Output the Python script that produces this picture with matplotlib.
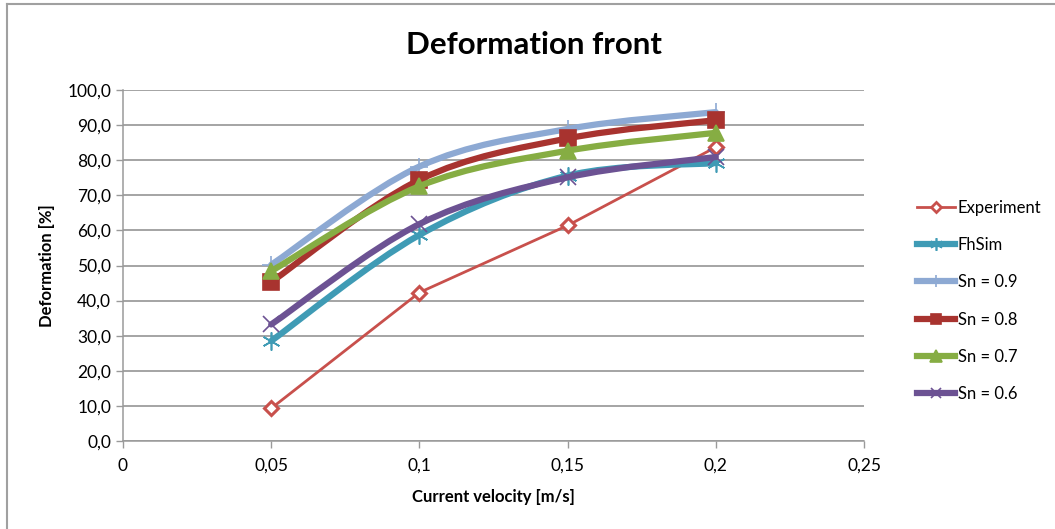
import matplotlib
matplotlib.use("Agg")
import matplotlib.pyplot as plt
from matplotlib.path import Path
from matplotlib.patches import PathPatch
from matplotlib.lines import Line2D

plt.rcParams['font.family'] = ['Lato', 'DejaVu Sans']

# Current velocity [m/s] and deformation [%] for each series
velocity = [0.05, 0.1, 0.15, 0.2]
experiment = [9.3, 42.3, 61.4, 83.7]
fhsim = [28.5, 58.7, 75.6, 79.2]
sn_09 = [50.2, 78.2, 88.9, 93.7]
sn_08 = [45.3, 74.4, 86.2, 91.4]
sn_07 = [48.4, 72.6, 82.7, 87.8]
sn_06 = [33.2, 61.8, 75.1, 80.9]

x_ticks = [0, 0.05, 0.1, 0.15, 0.2, 0.25]
x_tick_labels = ['0', '0,05', '0,1', '0,15', '0,2', '0,25']
y_ticks = list(range(0, 101, 10))
y_tick_labels = ['%d,0' % v for v in y_ticks]

# name, values, colour, marker, marker size, line width, smoothed
SERIES = [
    ('Experiment', experiment, '#C8504C', 'D', 7, 2.0, False),
    ('FhSim', fhsim, '#3F9BB5', (6, 2, 0), 13, 4.5, True),
    ('Sn = 0.9', sn_09, '#8DA9D3', '+', 13, 4.5, True),
    ('Sn = 0.8', sn_08, '#A8332F', 's', 11, 4.5, True),
    ('Sn = 0.7', sn_07, '#86AD43', '^', 12, 4.5, True),
    ('Sn = 0.6', sn_06, '#6C5293', 'x', 11, 4.5, True),
]


def smooth_path(xs, ys):
    """Bezier path through the points, control points as in spreadsheet
    smoothed lines (neighbour differences divided by six)."""
    pts = list(zip(xs, ys))
    n = len(pts)
    verts = [pts[0]]
    codes = [Path.MOVETO]
    for i in range(n - 1):
        p0 = pts[max(i - 1, 0)]
        p1 = pts[i]
        p2 = pts[i + 1]
        p3 = pts[min(i + 2, n - 1)]
        c1 = (p1[0] + (p2[0] - p0[0]) / 6.0, p1[1] + (p2[1] - p0[1]) / 6.0)
        c2 = (p2[0] - (p3[0] - p1[0]) / 6.0, p2[1] - (p3[1] - p1[1]) / 6.0)
        verts += [c1, c2, p2]
        codes += [Path.CURVE4] * 3
    return Path(verts, codes)


fig = plt.figure(figsize=(10.55, 5.29), dpi=100)
ax = fig.add_axes([123 / 1055, 88 / 529, 741 / 1055, 351 / 529])

handles = []
for z, (name, vals, col, mk, ms, lw, smooth) in enumerate(SERIES):
    if smooth:
        ax.add_patch(PathPatch(smooth_path(velocity, vals), facecolor='none',
                               edgecolor=col, lw=lw, capstyle='round',
                               joinstyle='round', zorder=3 + z))
        ax.plot(velocity, vals, linestyle='none', marker=mk, ms=ms,
                color=col, mec=col, mew=1.2, zorder=3 + z)
    else:
        ax.plot(velocity, vals, color=col, lw=lw, marker=mk, ms=ms,
                mfc='white', mec=col, mew=2.2, zorder=3 + z)
    handles.append(Line2D([], [], color=col, lw=lw, marker=mk,
                          ms=ms * 0.7, mec=col, mew=1.2 if smooth else 2,
                          mfc=col if smooth else 'white'))

ax.set_xlim(0, 0.25)
ax.set_ylim(0, 100)
ax.set_xticks(x_ticks)
ax.set_xticklabels(x_tick_labels)
ax.set_yticks(y_ticks)
ax.set_yticklabels(y_tick_labels)
ax.tick_params(axis='both', colors='#9A9A9A', labelcolor='black',
               labelsize=12.5, length=5, width=1)
ax.tick_params(axis='x', pad=7)
ax.grid(axis='y', color='#8C8C8C', lw=1.1)
ax.set_axisbelow(True)
for side in ('top', 'right'):
    ax.spines[side].set_visible(False)
for side in ('left', 'bottom'):
    ax.spines[side].set_color('#9A9A9A')
    ax.spines[side].set_linewidth(1.1)

ax.set_xlabel('Current velocity [m/s]', fontsize=12, fontweight='bold',
              labelpad=11)
ax.set_ylabel('Deformation [%]', fontsize=12, fontweight='bold',
              labelpad=9)
fig.text(534 / 1055, 1 - 45 / 529, 'Deformation front', fontsize=22.5,
         fontweight='bold', ha='center', va='center')

fig.legend(handles, [s[0] for s in SERIES], loc='upper left',
           bbox_to_anchor=(910 / 1055, 1 - 193 / 529), frameon=False,
           fontsize=12, handlelength=2.3, handletextpad=0.15,
           labelspacing=1.28, borderaxespad=0)

# outer chart frame
fig.add_artist(Line2D([7 / 1055, 1], [1 - 4 / 529, 1 - 4 / 529],
                      color='#A0A0A0', lw=1.5))
fig.add_artist(Line2D([7 / 1055, 7 / 1055], [0, 1 - 4 / 529],
                      color='#A0A0A0', lw=1.5))

fig.savefig('out.png', dpi=100)
